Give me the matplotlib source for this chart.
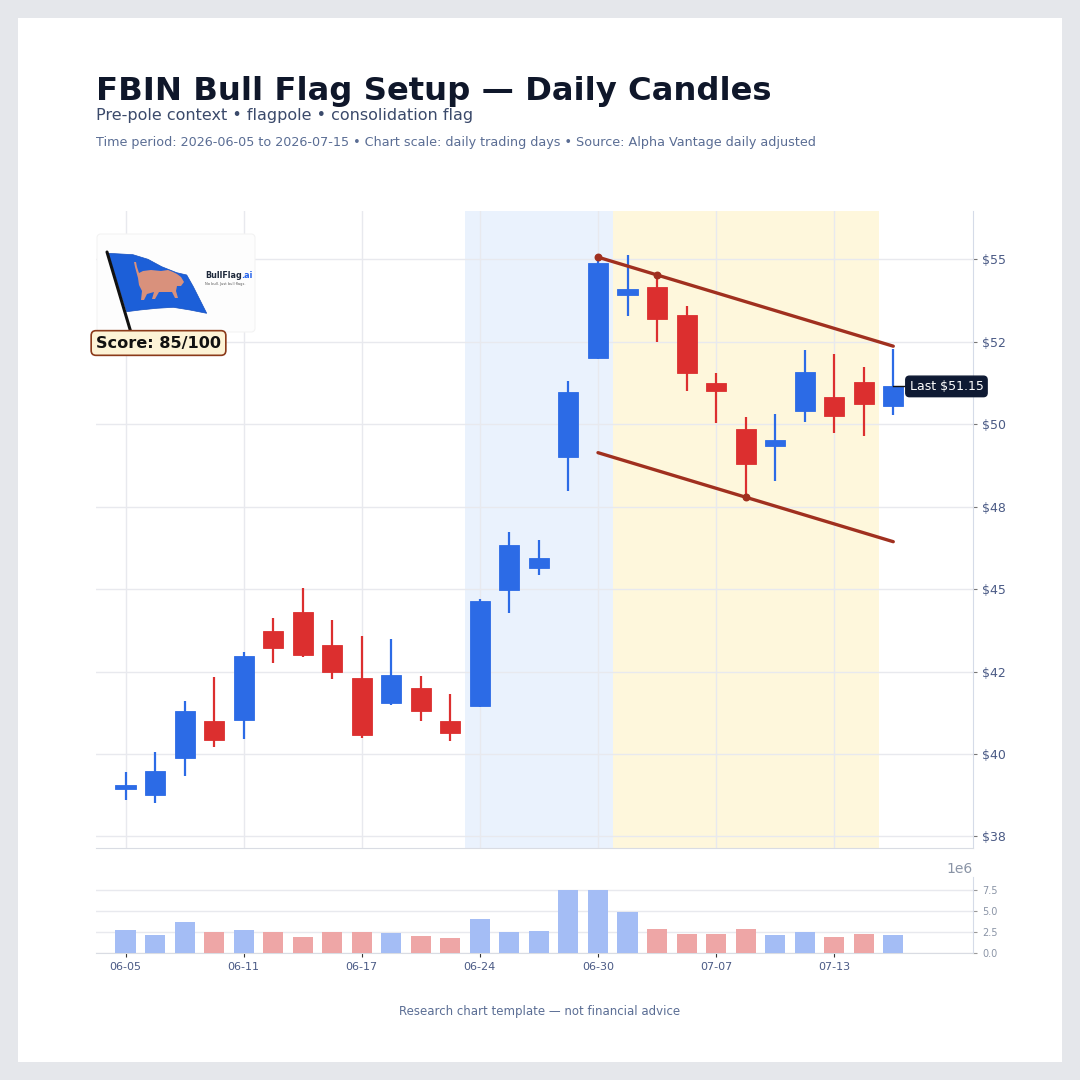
import matplotlib
matplotlib.use('Agg')
import matplotlib.pyplot as plt
from matplotlib.patches import Rectangle, Polygon, FancyBboxPatch

dates = ['06-05', '06-08', '06-09', '06-10', '06-11', '06-12', '06-15', '06-16', '06-17',
         '06-18', '06-22', '06-23', '06-24', '06-25', '06-26', '06-29', '06-30', '07-01',
         '07-02', '07-06', '07-07', '07-08', '07-09', '07-10', '07-13', '07-14', '07-15']
opens = [38.95, 38.75, 39.88, 41.00, 41.03, 43.73, 44.32, 43.32, 42.30, 41.55, 42.00, 41.00,
         41.46, 44.98, 45.64, 49.00, 52.01, 53.91, 54.18, 53.32, 51.25, 49.87, 49.35, 50.41,
         50.84, 51.28, 50.57]
highs = [39.45, 40.05, 41.62, 42.33, 43.09, 44.12, 45.03, 44.06, 43.58, 43.48, 42.38, 41.82,
         44.70, 46.74, 46.49, 51.30, 55.07, 55.15, 54.53, 53.59, 51.55, 50.22, 50.32, 52.26,
         52.13, 51.75, 52.28]
lows = [38.60, 38.50, 39.33, 40.22, 40.45, 42.77, 42.95, 42.28, 40.48, 41.48, 41.01, 40.39,
        41.44, 44.28, 45.43, 47.98, 51.97, 53.29, 52.49, 51.02, 50.03, 47.79, 48.29, 50.08,
        49.73, 49.65, 50.28]
closes = [39.05, 39.50, 41.30, 40.42, 42.97, 43.21, 43.00, 42.49, 40.58, 42.41, 41.30, 40.64,
          44.64, 46.34, 45.95, 50.99, 54.89, 54.10, 53.19, 51.56, 51.02, 48.80, 49.51, 51.59,
          50.26, 50.62, 51.15]
volumes = [2.70, 2.10, 3.65, 2.55, 2.70, 2.55, 1.90, 2.55, 2.46, 2.34, 1.99, 1.79, 4.01, 2.50,
           2.58, 7.46, 7.54, 4.92, 2.82, 2.22, 2.22, 2.82, 2.10, 2.50, 1.90, 2.22, 2.10]
volumes = [v * 1e6 for v in volumes]

pole_span = (11.5, 16.5)
flag_span = (16.5, 25.5)
upper_pts = [(16, 55.07), (18, 54.53)]
lower_touch = (21, 47.79)
line_end = 26

BLUE = '#2c6be6'
RED = '#dc2f2f'
TXT = '#4a5a85'
GRID = '#e8e9ee'

fig = plt.figure(figsize=(10.8, 10.8), dpi=100, facecolor='#e5e7eb')
fig.patches.append(Rectangle((18 / 1080, 18 / 1080), 1044 / 1080, 1044 / 1080,
                             transform=fig.transFigure, facecolor='white',
                             edgecolor='none', zorder=-10))

ax = fig.add_axes([96 / 1080, 1 - 848 / 1080, 877 / 1080, 637 / 1080])
axv = fig.add_axes([96 / 1080, 1 - 953 / 1080, 877 / 1080, 76 / 1080], sharex=ax)

n = len(dates)
xs = list(range(n))

# regions
ax.axvspan(*pole_span, color='#eaf2fd', zorder=0, lw=0)
ax.axvspan(*flag_span, color='#fef7dc', zorder=0, lw=0)

# candles
for i in xs:
    up = closes[i] >= opens[i]
    col = BLUE if up else RED
    ax.vlines(i, lows[i], highs[i], color=col, lw=1.6, zorder=3)
    ax.bar(i, abs(closes[i] - opens[i]), bottom=min(opens[i], closes[i]), width=0.68,
           color=col, edgecolor=col, linewidth=0.6, zorder=4)

# flag channel
slope = (upper_pts[1][1] - upper_pts[0][1]) / (upper_pts[1][0] - upper_pts[0][0])
x0 = upper_pts[0][0]
up_y0 = upper_pts[0][1]
lo_y0 = lower_touch[1] - slope * (lower_touch[0] - x0)
lc = '#a0301f'
ax.plot([x0, line_end], [up_y0, up_y0 + slope * (line_end - x0)], color=lc, lw=2.4,
        zorder=5, solid_capstyle='round')
ax.plot([x0, line_end], [lo_y0, lo_y0 + slope * (line_end - x0)], color=lc, lw=2.4,
        zorder=5, solid_capstyle='round')
ax.scatter([p[0] for p in upper_pts] + [lower_touch[0]],
           [p[1] for p in upper_pts] + [lower_touch[1]], s=22, color=lc, zorder=6)

# last price label
last = closes[-1]
ax.plot([n - 1, n - 0.55], [last, last], color='#111111', lw=1, zorder=6)
ax.text(n - 0.45, last, 'Last ${:.2f}'.format(last), color='white', fontsize=9,
        va='center', ha='left', zorder=7, clip_on=False,
        bbox=dict(boxstyle='round,pad=0.3', fc='#0f1a33', ec='#0f1a33'))

ax.set_xlim(-1, 28.7)
ax.set_ylim(37.15, 56.47)
ax.set_yticks([37.5, 40, 42.5, 45, 47.5, 50, 52.5, 55])
ax.yaxis.set_major_formatter(lambda v, p: '${:.0f}'.format(v))
ax.yaxis.tick_right()
ax.set_xticks(xs[::4])
ax.tick_params(axis='x', labelbottom=False, length=0)
ax.tick_params(axis='y', labelsize=9, labelcolor=TXT, color='#777777', length=3)
ax.grid(True, color=GRID, lw=1)
ax.set_axisbelow(True)
for s in ['top', 'left']:
    ax.spines[s].set_visible(False)
ax.spines['right'].set_color('#d5dbe8')
ax.spines['bottom'].set_color('#d9dce3')

# volume
vcols = ['#a4bdf5' if closes[i] >= opens[i] else '#eea6a6' for i in xs]
axv.bar(xs, volumes, width=0.68, color=vcols, zorder=3)
axv.set_ylim(0, 9.05e6)
axv.set_yticks([0, 2.5e6, 5e6, 7.5e6])
axv.yaxis.tick_right()
axv.set_xticks(xs[::4])
axv.set_xticklabels(dates[::4])
axv.tick_params(axis='x', labelsize=8, labelcolor=TXT, color='#333333', length=3)
axv.tick_params(axis='y', labelsize=7, labelcolor='#8a94a6', color='#999999', length=3)
axv.yaxis.get_offset_text().set_color('#8a94a6')
axv.yaxis.get_offset_text().set_fontsize(10)
axv.grid(True, axis='y', color=GRID, lw=1)
axv.set_axisbelow(True)
for s in ['top', 'left']:
    axv.spines[s].set_visible(False)
axv.spines['right'].set_color('#d5dbe8')
axv.spines['bottom'].set_color('#d9dce3')

# logo
axl = fig.add_axes([96 / 1080, 1 - 333 / 1080, 160 / 1080, 100 / 1080])
axl.set_xlim(0, 160)
axl.set_ylim(100, 0)
axl.axis('off')
axl.add_patch(FancyBboxPatch((1, 1), 158, 98, boxstyle='round,pad=0,rounding_size=4',
                             fc='#fdfdfd', ec='#f3f3f3', lw=0.8))
flag = [(12.3, 20.3), (37, 21.7), (52, 26.3), (65.7, 33.7), (80.7, 39.7), (90.7, 42),
        (97.3, 53.7), (110.7, 80.3), (94, 77), (77.3, 74.3), (60.7, 75.3), (44, 77),
        (30.7, 78.7)]
axl.add_patch(Polygon(flag, closed=True, fc='#1c5fd8', ec='#1550c0', lw=0.5))
bull = [(38, 29), (40, 29), (41, 34), (43, 40), (47, 38), (55, 37), (65, 38), (72, 37),
        (77, 39), (81, 41), (85, 44), (88, 49), (85, 53), (81, 53), (80, 58), (82, 65),
        (79, 65), (76, 59), (70, 59), (63, 59), (59, 66), (56, 66), (58, 59), (51, 61),
        (48, 67), (45, 67), (46, 58), (43, 52), (42, 45), (39, 34)]
axl.add_patch(Polygon(bull, closed=True, fc='#d9917c', ec='none'))
axl.plot([11, 36], [19, 103], color='#111111', lw=2.2, clip_on=False,
         solid_capstyle='round')
axl.text(109, 43, 'BullFlag', fontsize=5.8, fontweight='bold', color='#1e293b',
         va='center', ha='left')
axl.text(145, 43, '.ai', fontsize=5.8, fontweight='bold', color='#2563eb',
         va='center', ha='left', clip_on=False)
axl.text(109, 51, 'No bull. Just bull flags.', fontsize=2.6, color='#555555',
         va='center', ha='left')

fig.text(96 / 1080, 1 - 343 / 1080, 'Score: 85/100', fontsize=11.6, fontweight='bold',
         color='#111111', va='center', ha='left',
         bbox=dict(boxstyle='round,pad=0.3', fc='#fdf3d6', ec='#8b3a1a', lw=1.2))

# titles
fig.text(96 / 1080, 1 - 100 / 1080, 'FBIN Bull Flag Setup — Daily Candles', fontsize=23.2,
         fontweight='bold', color='#0f172a', va='baseline', ha='left')
fig.text(96 / 1080, 1 - 120 / 1080, 'Pre-pole context • flagpole • consolidation flag',
         fontsize=11.5, color='#3b4a6b', va='baseline', ha='left')
fig.text(96 / 1080, 1 - 146 / 1080,
         'Time period: 2026-06-05 to 2026-07-15 • Chart scale: daily trading days • '
         'Source: Alpha Vantage daily adjusted',
         fontsize=9.2, color='#5a6d94', va='baseline', ha='left')
fig.text(540 / 1080, 1 - 1011 / 1080, 'Research chart template — not financial advice',
         fontsize=8.5, color='#5a6d94', va='center', ha='center')

fig.savefig('out.png', dpi=100, facecolor=fig.get_facecolor())
